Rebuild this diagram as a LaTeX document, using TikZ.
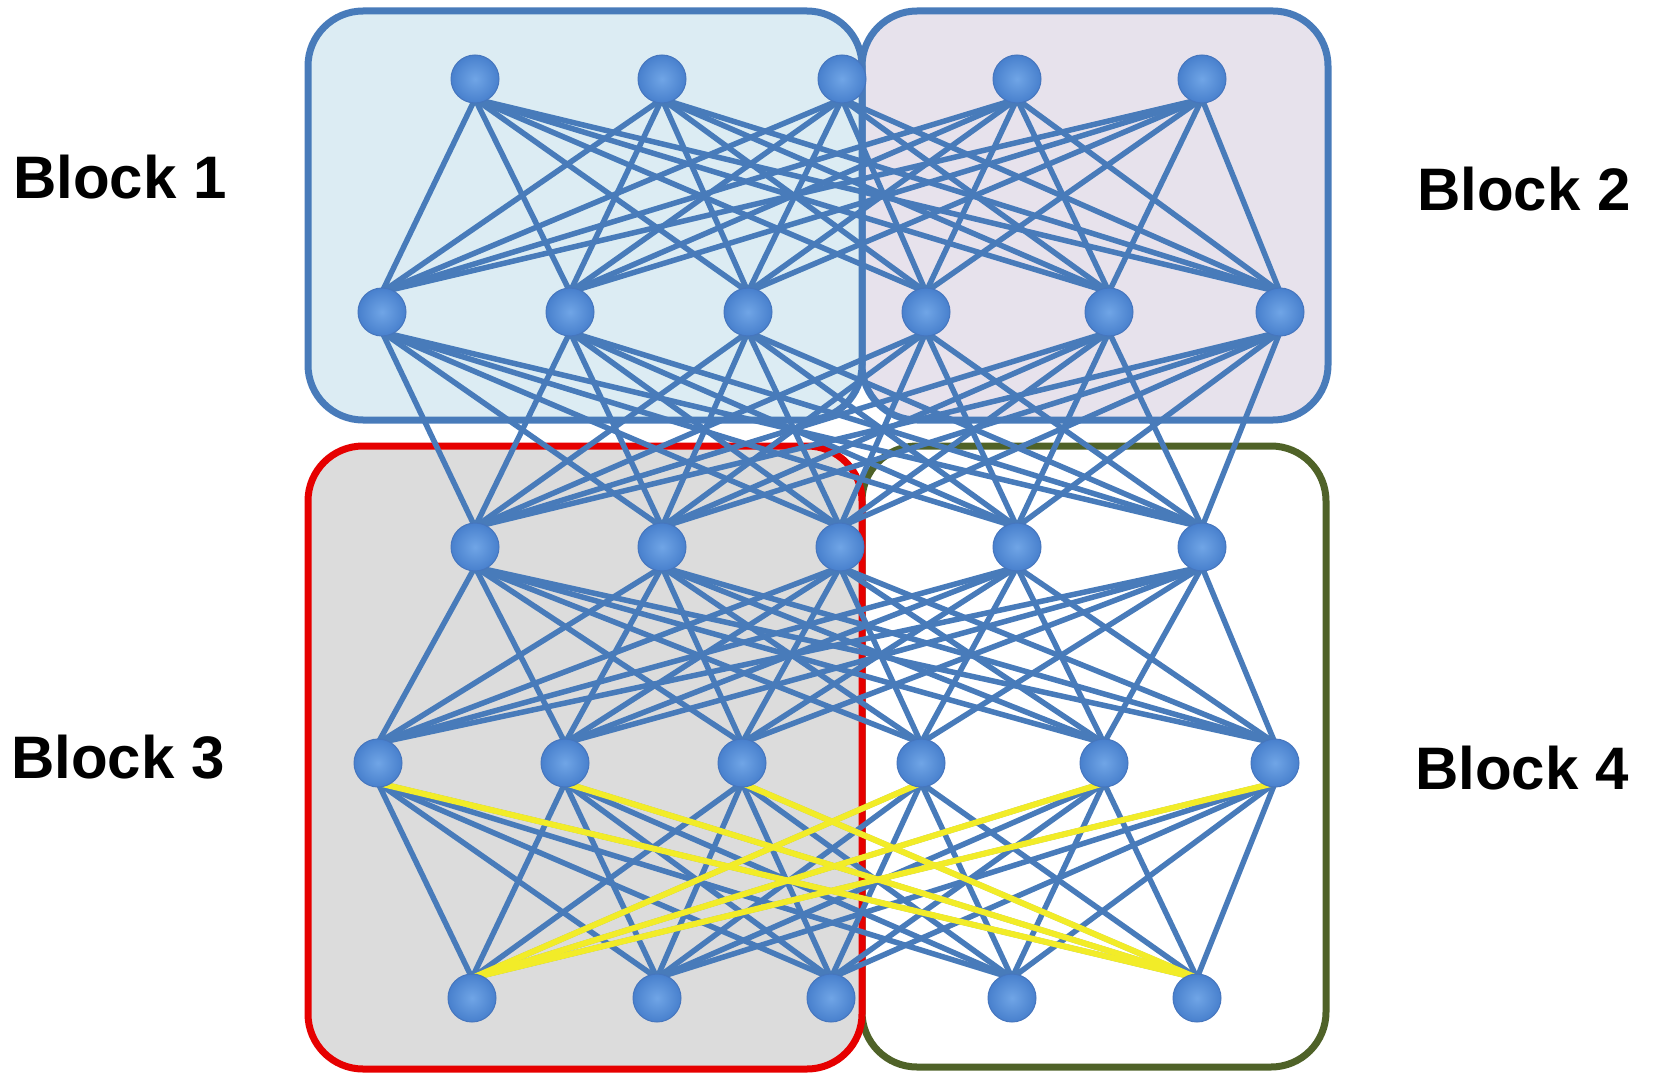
\documentclass[tikz,border=0pt]{standalone}
\usepackage{fontspec}
\setmainfont{Liberation Sans}
\definecolor{edgeblue}{RGB}{72,123,186}
\definecolor{fillA}{RGB}{220,236,243}
\definecolor{fillB}{RGB}{231,226,236}
\definecolor{fillC}{RGB}{220,220,220}
\definecolor{redb}{RGB}{230,0,0}
\definecolor{greenb}{RGB}{79,98,40}
\definecolor{nodein}{RGB}{112,165,230}
\definecolor{nodeout}{RGB}{72,128,205}
\definecolor{nodeline}{RGB}{70,118,190}
\definecolor{yel}{RGB}{242,236,40}
\begin{document}
\begin{tikzpicture}[x=1pt,y=-1pt,
  blockbox/.style={rectangle,rounded corners=55pt,line width=7pt,inner sep=0pt,outer sep=0pt},
  neuron/.style={circle,minimum size=48pt,inner sep=0pt,shade,inner color=nodein,outer color=nodeout,draw=nodeline,line width=1pt},
  edge/.style={draw=edgeblue,line width=5.5pt},
  hot/.style={draw=yel,line width=6pt},
  lbl/.style={anchor=base west,inner sep=0pt,font=\fontsize{60}{72}\selectfont\bfseries}]
\useasboundingbox (0,0) rectangle (1656,1075);
% blocks
\node[blockbox,draw=edgeblue,fill=fillB,minimum width=466pt,minimum height=409pt] (B2) at (1095,215.5) {};
\node[blockbox,draw=edgeblue,fill=fillA,minimum width=554pt,minimum height=409pt] (B1) at (585,215.5) {};
\node[blockbox,draw=greenb,fill=white,minimum width=464pt,minimum height=621pt] (B4) at (1094,756.5) {};
\node[blockbox,draw=redb,fill=fillC,minimum width=554pt,minimum height=623pt] (B3) at (585,757.5) {};
% labels
\node[lbl] (L1) at (13,199) {Block 1};
\node[lbl] (L2) at (1417,211) {Block 2};
\node[lbl] (L3) at (11,778) {Block 3};
\node[lbl] (L4) at (1415,789) {Block 4};
% neuron coordinates (nodes drawn later)
\foreach \n/\x in {1/475,2/662,3/842,4/1017,5/1202} {\coordinate (a\n) at (\x,79);}
\foreach \n/\x in {1/382,2/570,3/748,4/926,5/1109,6/1280} {\coordinate (b\n) at (\x,312);}
\foreach \n/\x in {1/475,2/662,3/840,4/1017,5/1202} {\coordinate (c\n) at (\x,547);}
\foreach \n/\x in {1/378,2/565,3/742,4/921,5/1104,6/1275} {\coordinate (d\n) at (\x,763);}
\foreach \n/\x in {1/472,2/657,3/831,4/1012,5/1197} {\coordinate (e\n) at (\x,998);}
% edges
\foreach \i in {1,...,5} {\foreach \j in {1,...,6} {\draw[edge] ([yshift=-20pt]a\i) -- ([yshift=20pt]b\j);}}
\foreach \i in {1,...,6} {\foreach \j in {1,...,5} {\draw[edge] ([yshift=-20pt]b\i) -- ([yshift=20pt]c\j);}}
\foreach \i in {1,...,5} {\foreach \j in {1,...,6} {\draw[edge] ([yshift=-20pt]c\i) -- ([yshift=20pt]d\j);}}
\foreach \i in {1,...,6} {\foreach \j in {1,...,5} {\draw[edge] ([yshift=-20pt]d\i) -- ([yshift=20pt]e\j);}}
% highlighted edges
\foreach \i in {1,2,3} {\draw[hot] ([yshift=-20pt]d\i) -- ([yshift=20pt]e5);}
\foreach \i in {4,5,6} {\draw[hot] ([yshift=-20pt]d\i) -- ([yshift=20pt]e1);}
% neurons
\foreach \l/\m in {a/5,b/6,c/5,d/6,e/5} {
  \foreach \n in {1,...,\m} {\node[neuron] (n\l\n) at (\l\n) {};}
}
\end{tikzpicture}
\end{document}
